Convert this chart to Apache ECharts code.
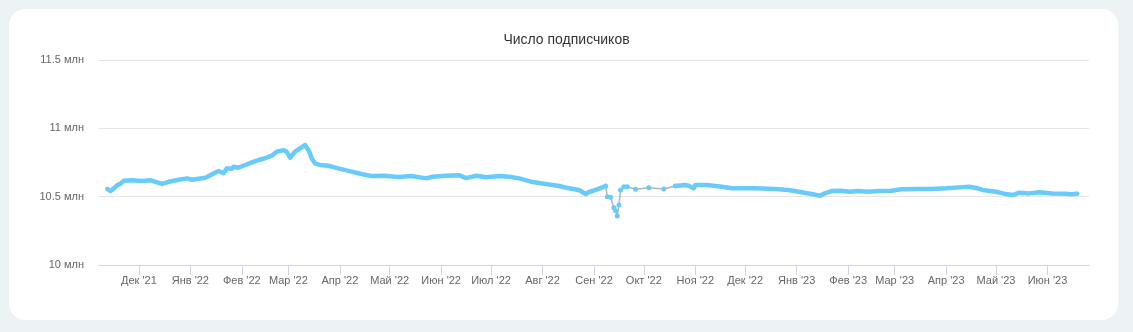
<!DOCTYPE html>
<html>
<head>
<meta charset="utf-8">
<script src="https://cdn.jsdelivr.net/npm/echarts@6/dist/echarts.min.js"></script>
<style>
  html, body { margin: 0; padding: 0; width: 1133px; height: 332px; background: #edf2f5; overflow: hidden; }
  #card { position: absolute; left: 9px; top: 9px; width: 1109px; height: 311px; background: #ffffff; border-radius: 16px; }
  #chart { position: absolute; left: 0; top: 0; width: 1133px; height: 332px; }
</style>
</head>
<body>
<div id="card"></div>
<div id="chart"></div>
<script>
// ---- Data ----
const titleText = 'Число подписчиков';
const monthNames = ['Янв','Фев','Мар','Апр','Май','Июн','Июл','Авг','Сен','Окт','Ноя','Дек'];
const tickDates = ['2021-12-01','2022-01-01','2022-02-01','2022-03-01','2022-04-01','2022-05-01','2022-06-01','2022-07-01','2022-08-01','2022-09-01','2022-10-01','2022-11-01','2022-12-01','2023-01-01','2023-02-01','2023-03-01','2023-04-01','2023-05-01','2023-06-01'];
const yTicks = [10, 10.5, 11, 11.5];

// dense daily segment (Nov 2021 – Sep 2022), millions
const denseDates1 = ['2021-11-12','2021-11-14','2021-11-16','2021-11-18','2021-11-20','2021-11-22','2021-11-27','2021-12-03','2021-12-08','2021-12-12','2021-12-15','2021-12-19','2021-12-25','2021-12-30','2022-01-02','2022-01-06','2022-01-10','2022-01-14','2022-01-18','2022-01-21','2022-01-23','2022-01-26','2022-01-27','2022-01-30','2022-02-03','2022-02-07','2022-02-11','2022-02-15','2022-02-19','2022-02-22','2022-02-26','2022-02-28','2022-03-02','2022-03-03','2022-03-05','2022-03-08','2022-03-11','2022-03-12','2022-03-13','2022-03-14','2022-03-15','2022-03-17','2022-03-20','2022-03-25','2022-03-31','2022-04-08','2022-04-14','2022-04-20','2022-04-28','2022-05-06','2022-05-14','2022-05-23','2022-05-27','2022-06-04','2022-06-12','2022-06-16','2022-06-22','2022-06-28','2022-07-06','2022-07-12','2022-07-18','2022-07-26','2022-08-03','2022-08-11','2022-08-17','2022-08-23','2022-08-27','2022-08-29','2022-09-02','2022-09-06','2022-09-08'];
const denseValues1 = [10.556,10.541,10.561,10.585,10.595,10.617,10.620,10.614,10.620,10.605,10.593,10.609,10.624,10.634,10.624,10.631,10.639,10.663,10.688,10.671,10.707,10.704,10.719,10.712,10.732,10.751,10.768,10.781,10.800,10.829,10.841,10.829,10.785,10.781,10.829,10.854,10.878,10.883,10.841,10.817,10.781,10.744,10.732,10.726,10.707,10.683,10.666,10.651,10.653,10.644,10.651,10.634,10.646,10.653,10.656,10.636,10.653,10.642,10.651,10.646,10.634,10.607,10.593,10.578,10.561,10.549,10.519,10.534,10.549,10.568,10.578];

// sparse segment (Sep – Oct 2022)
const sparseDates = ['2022-09-08','2022-09-09','2022-09-11','2022-09-13','2022-09-14','2022-09-15','2022-09-16','2022-09-17','2022-09-19','2022-09-21','2022-09-26','2022-10-04','2022-10-13','2022-10-20'];
const sparseValues = [10.578,10.500,10.495,10.419,10.397,10.358,10.439,10.549,10.573,10.573,10.554,10.565,10.556,10.578];

// dense daily segment (Oct 2022 – Jun 2023)
const denseDates2 = ['2022-10-20','2022-10-26','2022-10-28','2022-10-31','2022-11-01','2022-11-03','2022-11-08','2022-11-17','2022-11-23','2022-12-07','2022-12-19','2022-12-27','2023-01-04','2023-01-10','2023-01-15','2023-01-18','2023-01-22','2023-01-27','2023-02-02','2023-02-07','2023-02-13','2023-02-19','2023-02-27','2023-03-05','2023-03-15','2023-03-23','2023-04-01','2023-04-09','2023-04-15','2023-04-20','2023-04-23','2023-05-01','2023-05-07','2023-05-11','2023-05-15','2023-05-21','2023-05-27','2023-06-04','2023-06-12','2023-06-15','2023-06-19'];
const denseValues2 = [10.578,10.585,10.580,10.561,10.585,10.585,10.585,10.573,10.561,10.561,10.556,10.549,10.532,10.519,10.507,10.524,10.541,10.544,10.536,10.541,10.536,10.541,10.544,10.554,10.556,10.556,10.561,10.568,10.573,10.561,10.549,10.536,10.519,10.512,10.529,10.524,10.532,10.524,10.522,10.517,10.522];

const axisStart = '2021-11-07';
const axisEnd = '2023-06-26';

// ---- helpers ----
function parseLocal(s) { const p = s.split('-').map(Number); return new Date(p[0], p[1] - 1, p[2]).getTime(); }
function pairs(dates, values) { return dates.map((d, i) => [parseLocal(d), values[i]]); }

const BLUE = '#68cbfb';
const FONT = "'Liberation Sans', Arial, sans-serif";
const tickValues = tickDates.map(parseLocal);

const chart = echarts.init(document.getElementById('chart'), null, { renderer: 'canvas' });
chart.setOption({
  animation: false,
  backgroundColor: 'transparent',
  title: {
    text: titleText, left: 'center', top: 28,
    textStyle: { fontFamily: FONT, fontSize: 14, fontWeight: 'normal', color: '#333333' }
  },
  grid: { left: 99, right: 44, top: 60, bottom: 67, containLabel: false },
  xAxis: {
    type: 'value',
    min: parseLocal(axisStart), max: parseLocal(axisEnd),
    axisLine: { show: true, onZero: false, lineStyle: { color: '#ccd6eb', width: 1 } },
    axisTick: { show: true, length: 10, lineStyle: { color: '#ccd6eb', width: 1 }, customValues: tickValues },
    axisLabel: {
      customValues: tickValues, margin: 10,
      fontFamily: FONT, fontSize: 11, color: '#666666',
      formatter: function (v) { const d = new Date(v); return monthNames[d.getMonth()] + " '" + String(d.getFullYear()).slice(2); }
    },
    splitLine: { show: false }
  },
  yAxis: {
    type: 'value', min: yTicks[0], max: yTicks[yTicks.length - 1], interval: 0.5,
    axisLine: { show: false }, axisTick: { show: false },
    axisLabel: { margin: 15, padding: [4, 0, 0, 0], fontFamily: FONT, fontSize: 11, color: '#666666', formatter: v => v + ' млн' },
    splitLine: { show: true, lineStyle: { color: '#e6e6e6', width: 1 } }
  },
  series: [
    { type: 'line', data: pairs(denseDates1, denseValues1), showSymbol: false, lineStyle: { color: BLUE, width: 4.5, cap: 'round', join: 'round' }, itemStyle: { color: BLUE }, z: 2 },
    { type: 'line', data: pairs(denseDates2, denseValues2), showSymbol: false, lineStyle: { color: BLUE, width: 4.5, cap: 'round', join: 'round' }, itemStyle: { color: BLUE }, z: 2 },
    { type: 'line', data: pairs(sparseDates, sparseValues), showSymbol: true, showAllSymbol: true, symbol: 'circle', symbolSize: 5,
      lineStyle: { color: '#b4b4b4', width: 1.5 }, itemStyle: { color: BLUE, borderWidth: 0 }, z: 3 }
  ]
});
</script>
</body>
</html>
